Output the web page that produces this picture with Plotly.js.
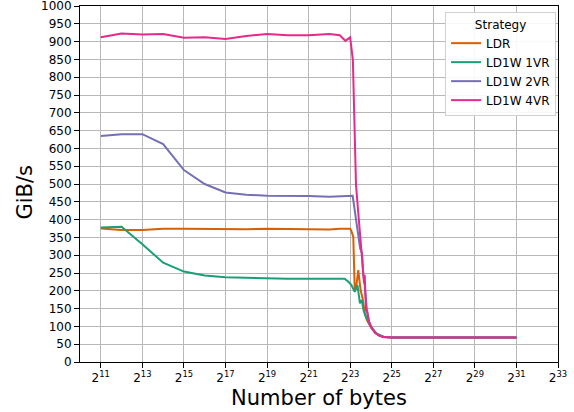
<!DOCTYPE html>
<html>
<head>
<meta charset="utf-8">
<script src="https://cdn.plot.ly/plotly-3.0.1.min.js"></script>
<style>html,body{margin:0;padding:0;background:#fff;}#chart{width:574px;height:412px;}</style>
</head>
<body>
<div id="chart"></div>
<script>
// x values are log2(number of bytes)
const ldrX  = [11,12,13,14,15,16,17,18,19,20,21,22,22.5,23,23.05,23.15,23.22,23.3,23.39,23.5,23.6,23.7,23.8,23.9,24.0,24.2,24.4,24.6,25,26,27,28,29,30,31];
const ldrY  = [375,371,371,374,374,373,374,373,374,373,373,372,374,374,369,352,200,215,258,202,178,140,118,106,97,82,74,70,69,69,69,69,69,69,69];

const v1X   = [11,12,13,14,15,16,17,18,19,20,21,22,22.5,22.73,22.9,23.06,23.22,23.35,23.47,23.56,23.64,23.72,23.88,24.04,24.3,24.62,25,26,27,28,29,30,31];
const v1Y   = [378,380,331,279,254,243,238,236,235,234,234,234,234,234,226,216,197,216,165,174,146,132,113,95,79,71,69,69,69,69,69,69,69];

const v2X   = [11,12,13,14,15,16,17,18,19,20,21,22,22.5,23,23.12,23.48,23.57,23.62,23.7,23.8,23.9,24.0,24.2,24.4,24.6,25,26,27,28,29,30,31];
const v2Y   = [635,640,640,612,539,500,476,470,467,467,466,464,465,467,467,319,306,250,215,150,115,98,82,74,70,69,69,69,69,69,69,69];

const v4X   = [11,12,13,14,15,16,17,18,19,20,21,22,22.5,22.77,23.0,23.13,23.28,23.6,23.67,23.7,23.76,23.82,23.9,24.0,24.2,24.4,24.6,25,26,27,28,29,30,31];
const v4Y   = [912,923,920,921,911,912,907,916,921,918,918,921,918,902,912,848,497,252,221,244,146,140,115,100,82,74,70,69,69,69,69,69,69,69];

const seriesNames = ["LDR","LD1W 1VR","LD1W 2VR","LD1W 4VR"];
const seriesColors = ["#d95f02","#1b9e77","#7570b3","#e7298a"];
const xTickExp = [11,13,15,17,19,21,23,25,27,29,31,33];
const xTickText = xTickExp.map(e => "2<sup>" + e + "</sup>");
const yTitle = "GiB/s";
const xTitle = "Number of bytes";

const xs = [ldrX, v1X, v2X, v4X];
const ys = [ldrY, v1Y, v2Y, v4Y];
const traces = seriesNames.map((n, i) => ({
  x: xs[i], y: ys[i], name: n, type: "scatter", mode: "lines",
  line: {color: seriesColors[i], width: 2}
}));

const font = {family: "DejaVu Sans, sans-serif", color: "#000"};
const layout = {
  width: 574, height: 412,
  margin: {l: 80, r: 16, t: 6, b: 50},
  paper_bgcolor: "#fff", plot_bgcolor: "#fff",
  font: Object.assign({size: 12}, font),
  showlegend: true,
  legend: {
    x: 0.996, y: 0.983, xanchor: "right", yanchor: "top",
    bgcolor: "rgba(255,255,255,0.9)", bordercolor: "#d0d0d0", borderwidth: 1,
    font: Object.assign({size: 12}, font),
    title: {text: "Strategy", side: "top center", font: Object.assign({size: 12}, font)},
    tracegroupgap: 0
  },
  annotations: [{
    text: yTitle, xref: "paper", yref: "paper", x: -0.116, y: 0.4775,
    xanchor: "center", yanchor: "middle", textangle: -90, showarrow: false,
    font: Object.assign({size: 21}, font)
  }],
  xaxis: {
    range: [10, 33], type: "linear",
    tickvals: xTickExp, ticktext: xTickText,
    showgrid: true, gridcolor: "#b8b8b8", gridwidth: 1,
    zeroline: false, showline: true, linecolor: "#000", linewidth: 1, mirror: true,
    ticks: "outside", ticklen: 5, tickcolor: "#000",
    tickfont: Object.assign({size: 12}, font),
    ticklabeloverflow: "allow",
    title: {text: xTitle, font: Object.assign({size: 21}, font), standoff: 5}
  },
  yaxis: {
    range: [0, 1000], dtick: 50, tick0: 0,
    showgrid: true, gridcolor: "#b8b8b8", gridwidth: 1,
    zeroline: false, showline: true, linecolor: "#000", linewidth: 1, mirror: true,
    ticks: "outside", ticklen: 5, tickcolor: "#000",
    tickfont: Object.assign({size: 12}, font),
    ticklabeloverflow: "allow"
  }
};
Plotly.newPlot("chart", traces, layout, {displayModeBar: false, staticPlot: true});
</script>
</body>
</html>
